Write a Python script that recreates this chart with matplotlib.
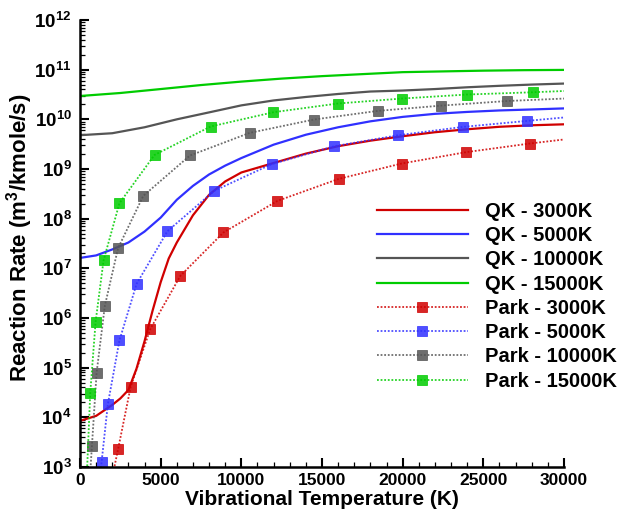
import math
import matplotlib
matplotlib.use('Agg')
import matplotlib.pyplot as plt
from matplotlib.ticker import FixedLocator, LogLocator, MultipleLocator, FuncFormatter, NullFormatter

plt.rcParams['font.family'] = ['Liberation Sans', 'DejaVu Sans']
plt.rcParams['font.weight'] = 'bold'
plt.rcParams['mathtext.fontset'] = 'custom'
plt.rcParams['mathtext.rm'] = 'Liberation Sans:bold'
plt.rcParams['mathtext.bf'] = 'Liberation Sans:bold'

# QK model curves
qk_x = [0, 1000, 2000, 2500, 3000, 3500, 4000, 4500, 5000, 5500, 6000, 7000, 8000,
        9000, 10000, 12000, 14000, 16000, 18000, 20000, 22000, 24000, 26000, 28000, 30000]
qk_3000 = [8.5e3, 1.07e4, 1.78e4, 2.4e4, 3.55e4, 9.5e4, 3.4e5, 1.41e6, 5.25e6, 1.58e7, 3.31e7,
           1.17e8, 3.02e8, 5.62e8, 8.51e8, 1.32e9, 2.04e9, 2.88e9, 3.72e9, 4.57e9, 5.5e9,
           6.31e9, 7.08e9, 7.59e9, 7.94e9]

qk5_x = [0, 1000, 2000, 3000, 4000, 5000, 6000, 7000, 8000, 9000, 10000, 12000, 14000,
         16000, 18000, 20000, 22000, 24000, 26000, 28000, 30000]
qk_5000 = [1.62e7, 1.82e7, 2.4e7, 3.31e7, 5.5e7, 1.05e8, 2.4e8, 4.57e8, 7.76e8, 1.17e9, 1.66e9,
           3.09e9, 4.9e9, 6.92e9, 9.12e9, 1.12e10, 1.29e10, 1.41e10, 1.51e10, 1.58e10, 1.66e10]

qk10_x = [0, 2000, 4000, 6000, 8000, 10000, 12000, 14000, 16000, 18000, 20000, 22000,
          24000, 26000, 28000, 30000]
qk_10000 = [4.79e9, 5.25e9, 6.92e9, 1.0e10, 1.38e10, 1.91e10, 2.4e10, 2.82e10, 3.24e10,
            3.63e10, 3.8e10, 4.07e10, 4.42e10, 4.73e10, 5.01e10, 5.25e10]

qk15_x = [0, 2500, 5000, 7500, 10000, 12500, 15000, 17500, 20000, 22500, 25000, 27500, 30000]
qk_15000 = [2.95e10, 3.39e10, 4.07e10, 4.9e10, 5.75e10, 6.61e10, 7.41e10, 8.13e10, 8.91e10,
            9.23e10, 9.55e10, 9.77e10, 9.89e10]

# Park model (first and last points carry no marker)
park3_x = [2050, 2359, 3142, 4355, 6222, 8890, 12240, 16035, 19940, 23920, 27890, 30000]
park_3000 = [7.5e2, 2.27e3, 4.13e4, 5.98e5, 7.06e6, 5.27e7, 2.28e8, 6.32e8, 1.29e9, 2.18e9,
             3.26e9, 3.93e9]
park5_x = [1250, 1336, 1725, 2445, 3511, 5421, 8316, 11870, 15770, 19730, 23720, 27700, 30000]
park_5000 = [6.9e2, 1.24e3, 1.83e4, 3.54e5, 4.89e6, 5.6e7, 3.63e8, 1.25e9, 2.88e9, 4.79e9,
             7.03e9, 9.29e9, 1.09e10]
park10_x = [620, 739, 1029, 1540, 2359, 3923, 6817, 10510, 14500, 18460, 22400, 26490, 30000]
park_10000 = [6.6e2, 2.65e3, 7.89e4, 1.76e6, 2.55e7, 2.88e8, 1.87e9, 5.33e9, 9.91e9, 1.48e10,
              1.89e10, 2.34e10, 2.62e10]
park15_x = [420, 634, 967, 1460, 2445, 4620, 8090, 11990, 15975, 19940, 24000, 28090, 30000]
park_15000 = [6.3e2, 3.08e4, 8.39e5, 1.44e7, 2.05e8, 1.92e9, 7.16e9, 1.39e10, 2.08e10, 2.62e10,
              3.16e10, 3.51e10, 3.72e10]

red, blue, gray, green = '#d00000', '#3030ff', '#555555', '#00cc00'

fig = plt.figure(figsize=(6.19, 5.17), dpi=100)
ax = fig.add_axes([80 / 619, 1 - 467 / 517, 484 / 619, 447 / 517])

ax.plot(qk_x, qk_3000, color=red, lw=1.6, label='QK - 3000K')
ax.plot(qk5_x, qk_5000, color=blue, lw=1.6, label='QK - 5000K')
ax.plot(qk10_x, qk_10000, color=gray, lw=1.6, label='QK - 10000K')
ax.plot(qk15_x, qk_15000, color=green, lw=1.6, label='QK - 15000K')

for xs, ys, c, lab in [(park3_x, park_3000, red, 'Park - 3000K'),
                       (park5_x, park_5000, blue, 'Park - 5000K'),
                       (park10_x, park_10000, gray, 'Park - 10000K'),
                       (park15_x, park_15000, green, 'Park - 15000K')]:
    ax.plot(xs, ys, color=c, lw=1.3, ls=(0, (1, 1)), alpha=0.85, marker='s', ms=7,
            mfc=c, mec=c, mew=0.6, markevery=slice(1, -1), label=lab)

ax.set_yscale('log')
ax.set_xlim(0, 30000)
ax.set_ylim(1e3, 1e12)

ax.xaxis.set_major_locator(MultipleLocator(5000))
ax.xaxis.set_minor_locator(MultipleLocator(1000))
ax.yaxis.set_major_locator(FixedLocator([10.0 ** k for k in range(3, 13)]))
ax.yaxis.set_minor_locator(LogLocator(base=10, subs=range(2, 10), numticks=20))
ax.yaxis.set_minor_formatter(NullFormatter())
ax.yaxis.set_major_formatter(FuncFormatter(lambda v, p: r'$\mathbf{10^{%d}}$' % round(math.log10(v))))

for s in ['top', 'right']:
    ax.spines[s].set_visible(False)
for s in ['left', 'bottom']:
    ax.spines[s].set_linewidth(1.8)
ax.tick_params(which='major', direction='in', length=6.5, width=1.5, pad=4)
ax.tick_params(axis='x', which='major', labelsize=12.5)
ax.tick_params(axis='y', which='major', labelsize=13.5, pad=6)
ax.tick_params(which='minor', direction='in', length=3.5, width=0.9)
for t in ax.get_xticklabels():
    t.set_fontweight('bold')

ax.set_xlabel('Vibrational Temperature (K)', fontsize=15, fontweight='bold', labelpad=2)
ax.set_ylabel('Reaction Rate (m$^{\\mathbf{3}}$/kmole/s)', fontsize=16, fontweight='bold')
ax.yaxis.set_label_coords(-0.092, 0.512)

fig.legend(loc='upper left', bbox_to_anchor=(377 / 619, 1 - 202 / 517), frameon=False,
           prop={'weight': 'bold', 'size': 14.5}, handlelength=4.5, handletextpad=0.85,
           labelspacing=0.26, borderpad=0, borderaxespad=0)

fig.savefig('out.png', dpi=100)
